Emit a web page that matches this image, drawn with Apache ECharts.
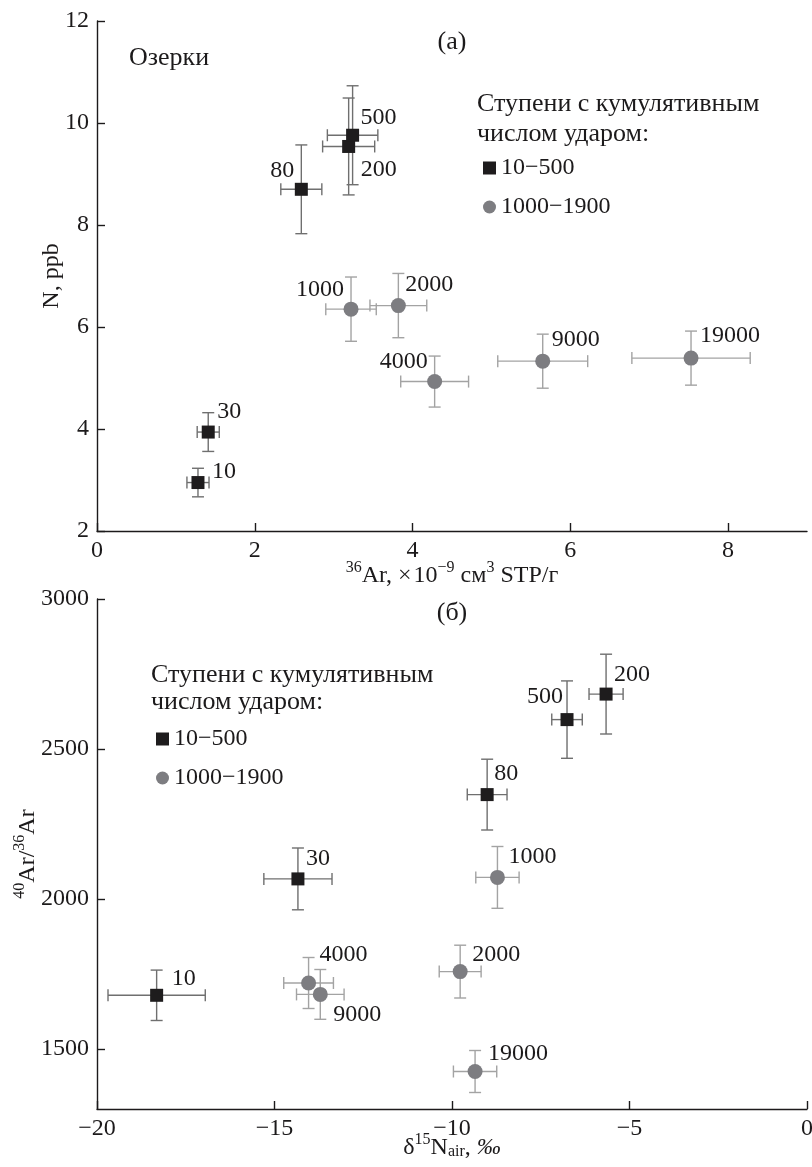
<!DOCTYPE html>
<html lang="ru">
<head>
    <meta charset="UTF-8">
    <title>Озерки</title>
    <script src="https://cdn.jsdelivr.net/npm/echarts@6/dist/echarts.min.js"></script>
    <style>
        html, body { margin: 0; padding: 0; background: #fff; }
    </style>
</head>
<body>
<div id="main" style="width:812px;height:1167px;"></div>
<script>
    // (а) 36Ar vs N
    const stepsSqA = ['10', '30', '80', '200', '500'];
    const arSqA = [1.28, 1.41, 2.59, 3.19, 3.24];
    const nSqA = [2.95, 3.94, 8.70, 9.54, 9.76];
    const arErrSqA = [0.14, 0.14, 0.26, 0.33, 0.32];
    const nErrSqA = [0.28, 0.38, 0.87, 0.95, 0.97];

    const stepsCiA = ['1000', '2000', '4000', '9000', '19000'];
    const arCiA = [3.22, 3.82, 4.28, 5.65, 7.53];
    const nCiA = [6.35, 6.42, 4.93, 5.33, 5.39];
    const arErrCiA = [0.32, 0.36, 0.43, 0.57, 0.75];
    const nErrCiA = [0.63, 0.63, 0.50, 0.53, 0.53];

    // (б) d15N vs 40Ar/36Ar
    const stepsSqB = ['10', '30', '80', '200', '500'];
    const dnSqB = [-18.32, -14.34, -9.01, -5.66, -6.76];
    const ratioSqB = [1679, 2067, 2348, 2683, 2598];
    const dnErrSqB = [1.37, 0.96, 0.56, 0.48, 0.43];
    const ratioErrSqB = [84, 103, 118, 133, 129];

    const stepsCiB = ['1000', '2000', '4000', '9000', '19000'];
    const dnCiB = [-8.72, -9.77, -14.04, -13.71, -9.35];
    const ratioCiB = [2072, 1758, 1720, 1682, 1425];
    const dnErrCiB = [0.61, 0.59, 0.70, 0.67, 0.61];
    const ratioErrCiB = [103, 88, 85, 83, 70];

    const ticksXA = [0, 2, 4, 6, 8];
    const ticksYA = [2, 4, 6, 8, 10, 12];
    const ticksXB = [-20, -15, -10, -5, 0];
    const ticksYB = [1500, 2000, 2500, 3000];

    const seriesNames = ['10\u2212500', '1000\u22121900'];

    // где стоят подписи точек: [выравнивание, dx, dy]
    const labelA = {
        '10': ['left', 14, -11], '30': ['left', 9, -20], '80': ['right', -7, -19],
        '200': ['left', 12, 23], '500': ['left', 8, -18],
        '1000': ['right', -7, -19], '2000': ['left', 7, -21], '4000': ['right', -7, -20],
        '9000': ['left', 9, -21], '19000': ['left', 9, -22]
    };
    const labelB = {
        '10': ['left', 15, -17], '30': ['left', 8, -20], '80': ['left', 7, -21],
        '200': ['left', 8, -19], '500': ['right', -4, -23],
        '1000': ['left', 11, -21], '2000': ['left', 12, -17], '4000': ['left', 11, -28],
        '9000': ['left', 13, 20], '19000': ['left', 13, -18]
    };

    const FONT = '"Liberation Serif", "DejaVu Serif", serif';
    const INK = '#1c1a1b';
    const SQ = '#1e1c1d';
    const CI = '#7d7d81';
    const BAR_SQ = '#6f6f6f';
    const BAR_CI = '#a3a3a3';

    function points(steps, xs, ys, place) {
        return steps.map((s, i) => ({
            name: s,
            value: [xs[i], ys[i]],
            label: { align: place[s][0], offset: [place[s][1], place[s][2]] }
        }));
    }

    function bars(xs, ys, ex, ey) {
        return xs.map((x, i) => [x, ys[i], ex[i], ey[i]]);
    }

    function renderBars(color) {
        return function (params, api) {
            const x = api.value(0), y = api.value(1), ex = api.value(2), ey = api.value(3);
            const l = api.coord([x - ex, y]), r = api.coord([x + ex, y]);
            const t = api.coord([x, y + ey]), b = api.coord([x, y - ey]);
            const cap = 6;
            const st = { stroke: color, lineWidth: 1.4 };
            const line = (x1, y1, x2, y2) => ({ type: 'line', shape: { x1, y1, x2, y2 }, style: st });
            return {
                type: 'group',
                children: [
                    line(l[0], l[1], r[0], r[1]),
                    line(t[0], t[1], b[0], b[1]),
                    line(l[0], l[1] - cap, l[0], l[1] + cap),
                    line(r[0], r[1] - cap, r[0], r[1] + cap),
                    line(t[0] - cap, t[1], t[0] + cap, t[1]),
                    line(b[0] - cap, b[1], b[0] + cap, b[1])
                ]
            };
        };
    }

    const minus = v => String(v).replace('-', '\u2212');

    const richName = {
        n: { fontFamily: FONT, fontSize: 24, color: INK, verticalAlign: 'bottom', lineHeight: 28 },
        s: { fontFamily: FONT, fontSize: 16, color: INK, verticalAlign: 'top', lineHeight: 16 },
        b: { fontFamily: FONT, fontSize: 16, color: INK, verticalAlign: 'bottom', lineHeight: 16 },
        i: { fontFamily: FONT, fontSize: 24, color: INK, fontStyle: 'italic', verticalAlign: 'bottom', lineHeight: 28 }
    };

    function axis(gridIndex, min, max, ticks, extra) {
        return Object.assign({
            type: 'value',
            gridIndex: gridIndex,
            min: min,
            max: max,
            splitLine: { show: false },
            axisLine: { show: true, onZero: false, lineStyle: { color: INK, width: 1.4 } },
            axisTick: { show: true, inside: true, length: 8, customValues: ticks, lineStyle: { color: INK, width: 1.4 } },
            axisLabel: {
                customValues: ticks, margin: 8, formatter: minus,
                fontFamily: FONT, fontSize: 24, color: INK
            },
            nameLocation: 'middle',
            nameMoveOverlap: false,
            nameTextStyle: { rich: richName }
        }, extra);
    }

    const labelStyle = {
        show: true, position: 'inside', verticalAlign: 'middle',
        formatter: p => p.name, fontFamily: FONT, fontSize: 24, color: INK
    };

    const legendText = { fontFamily: FONT, fontSize: 24, color: INK, lineHeight: 24 };
    const cyr = '26px ' + FONT;

    let myChart = echarts.init(document.getElementById('main'), null, { renderer: 'canvas' });

    let option = {
        animation: false,
        backgroundColor: '#fff',
        textStyle: { fontFamily: FONT },
        grid: [
            { left: 97, top: 21, width: 710, height: 510, outerBoundsMode: 'none' },
            { left: 97, top: 599, width: 710, height: 510, outerBoundsMode: 'none' }
        ],
        xAxis: [
            axis(0, 0, 9, ticksXA, { name: '{s|36}{n|Ar, \u00d7\u200a10}{s|\u22129}{n| см}{s|3}{n| STP/г}', nameGap: 29 }),
            axis(1, -20, 0, ticksXB, { name: '{n|\u03b4}{s|15}{n|N}{b|air}{n|, }{i|\u2030}', nameGap: 23 })
        ],
        yAxis: [
            axis(0, 2, 12, ticksYA, { name: '{n|N, ppb}', nameGap: 33 }),
            axis(1, 1300, 3000, ticksYB, { name: '{s|40}{n|Ar/}{s|36}{n|Ar}', nameGap: 57 })
        ],
        legend: [
            {
                data: seriesNames, orient: 'vertical', left: 483, top: 156, padding: 0,
                itemWidth: 13, itemHeight: 13, itemGap: 15, selectedMode: false,
                textStyle: legendText
            },
            {
                data: seriesNames, orient: 'vertical', left: 156, top: 727, padding: 0,
                itemWidth: 13, itemHeight: 13, itemGap: 15, selectedMode: false,
                textStyle: legendText
            }
        ],
        graphic: [
            { type: 'text', x: 129, y: 58, style: { text: 'Озерки', font: cyr, fill: INK, textVerticalAlign: 'middle' } },
            { type: 'text', x: 452, y: 42, style: { text: '(а)', font: cyr, fill: INK, textAlign: 'center', textVerticalAlign: 'middle' } },
            { type: 'text', x: 477, y: 104, style: { text: 'Ступени с кумулятивным', font: cyr, fill: INK, textVerticalAlign: 'middle' } },
            { type: 'text', x: 477, y: 134, style: { text: 'числом ударом:', font: cyr, fill: INK, textVerticalAlign: 'middle' } },
            { type: 'text', x: 452, y: 613, style: { text: '(б)', font: cyr, fill: INK, textAlign: 'center', textVerticalAlign: 'middle' } },
            { type: 'text', x: 151, y: 675, style: { text: 'Ступени с кумулятивным', font: cyr, fill: INK, textVerticalAlign: 'middle' } },
            { type: 'text', x: 151, y: 702, style: { text: 'числом ударом:', font: cyr, fill: INK, textVerticalAlign: 'middle' } }
        ],
        series: [
            {
                type: 'custom', xAxisIndex: 0, yAxisIndex: 0, z: 1,
                renderItem: renderBars(BAR_SQ), encode: { x: 0, y: 1 },
                data: bars(arSqA, nSqA, arErrSqA, nErrSqA)
            },
            {
                type: 'custom', xAxisIndex: 0, yAxisIndex: 0, z: 1,
                renderItem: renderBars(BAR_CI), encode: { x: 0, y: 1 },
                data: bars(arCiA, nCiA, arErrCiA, nErrCiA)
            },
            {
                name: seriesNames[0], type: 'scatter', xAxisIndex: 0, yAxisIndex: 0, z: 3,
                symbol: 'rect', symbolSize: 13, itemStyle: { color: SQ, opacity: 1 },
                label: labelStyle, data: points(stepsSqA, arSqA, nSqA, labelA)
            },
            {
                name: seriesNames[1], type: 'scatter', xAxisIndex: 0, yAxisIndex: 0, z: 3,
                symbol: 'circle', symbolSize: 15, itemStyle: { color: CI, opacity: 1 },
                label: labelStyle, data: points(stepsCiA, arCiA, nCiA, labelA)
            },
            {
                type: 'custom', xAxisIndex: 1, yAxisIndex: 1, z: 1,
                renderItem: renderBars(BAR_SQ), encode: { x: 0, y: 1 },
                data: bars(dnSqB, ratioSqB, dnErrSqB, ratioErrSqB)
            },
            {
                type: 'custom', xAxisIndex: 1, yAxisIndex: 1, z: 1,
                renderItem: renderBars(BAR_CI), encode: { x: 0, y: 1 },
                data: bars(dnCiB, ratioCiB, dnErrCiB, ratioErrCiB)
            },
            {
                name: seriesNames[0], type: 'scatter', xAxisIndex: 1, yAxisIndex: 1, z: 3,
                symbol: 'rect', symbolSize: 13, itemStyle: { color: SQ, opacity: 1 },
                label: labelStyle, data: points(stepsSqB, dnSqB, ratioSqB, labelB)
            },
            {
                name: seriesNames[1], type: 'scatter', xAxisIndex: 1, yAxisIndex: 1, z: 3,
                symbol: 'circle', symbolSize: 15, itemStyle: { color: CI, opacity: 1 },
                label: labelStyle, data: points(stepsCiB, dnCiB, ratioCiB, labelB)
            }
        ]
    };

    myChart.setOption(option);
</script>
</body>
</html>
